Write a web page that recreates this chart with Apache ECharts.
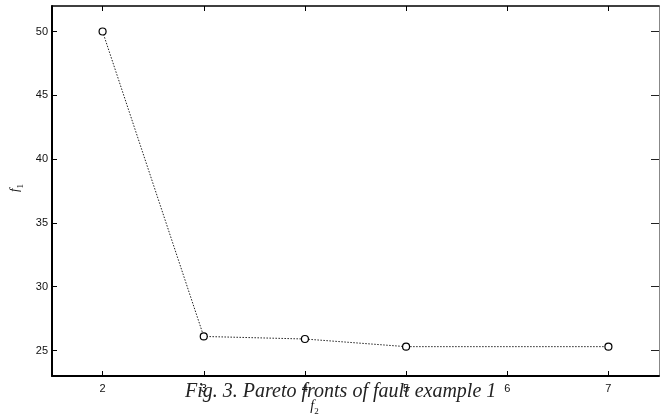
<!DOCTYPE html>
<html>
<head>
<meta charset="utf-8">
<script src="https://cdn.jsdelivr.net/npm/echarts@6/dist/echarts.min.js"></script>
<style>html,body{margin:0;padding:0;background:#fff}#c{width:661px;height:414px}</style>
</head>
<body>
<div id="c"></div>
<script>
var xValues = [2, 3, 4, 5, 7];
var yValues = [50, 26.1, 25.9, 25.3, 25.3];
var xTicks = [2, 3, 4, 5, 6, 7];
var yTicks = [25, 30, 35, 40, 45, 50];
var caption = 'Fig. 3. Pareto fronts of fault example 1';

var chart = echarts.init(document.getElementById('c'));
var pts = xValues.map(function (x, i) { return [x, yValues[i]]; });
var labelStyle = { color: '#111', fontSize: 11, fontFamily: 'Liberation Sans, Arial, sans-serif' };
chart.setOption({
  animation: false,
  backgroundColor: '#fff',
  title: {
    text: caption,
    left: 180, top: 377,
    textStyle: { fontFamily: 'Liberation Serif, serif', fontStyle: 'italic', fontWeight: 'normal', fontSize: 20, color: '#222' }
  },
  grid: { left: 52, right: 2, top: 6, bottom: 38, outerBoundsMode: 'none', containLabel: false },
  xAxis: [{
    type: 'value', min: 1.5, max: 7.5, interval: 1,
    position: 'bottom',
    name: '{f|f}{s|2}', nameLocation: 'middle', nameGap: 15,
    nameTextStyle: { padding: [0, 82, 0, 0], rich: {
      f: { fontFamily: 'Liberation Serif, serif', fontStyle: 'italic', fontSize: 14, color: '#111' },
      s: { fontFamily: 'Liberation Serif, serif', fontSize: 9, color: '#111', verticalAlign: 'bottom', padding: [12, 0, 0, 0] }
    }},
    axisLine: { show: true, onZero: false, lineStyle: { color: '#000', width: 2 } },
    axisTick: { show: true, inside: true, length: 5, lineStyle: { color: '#000', width: 1 },
      customValues: xTicks },
    axisLabel: Object.assign({ margin: 7, customValues: xTicks }, labelStyle),
    splitLine: { show: false }
  }, {
    type: 'value', min: 1.5, max: 7.5, interval: 1,
    position: 'top',
    axisLine: { show: true, onZero: false, lineStyle: { color: '#000', width: 1.5 } },
    axisTick: { show: true, inside: true, length: 5, lineStyle: { color: '#000', width: 1 }, customValues: xTicks },
    axisLabel: { show: false },
    splitLine: { show: false }
  }],
  yAxis: [{
    type: 'value', min: 23, max: 52, interval: 5,
    position: 'left',
    name: '{f|f}{s|1}', nameLocation: 'middle', nameGap: 27, nameRotate: 90,
    nameTextStyle: { padding: [0, 0, 0, 6], rich: {
      f: { fontFamily: 'Liberation Serif, serif', fontStyle: 'italic', fontSize: 13, color: '#111' },
      s: { fontFamily: 'Liberation Serif, serif', fontSize: 9, color: '#111', verticalAlign: 'bottom', padding: [12, 0, 0, 0] }
    }},
    axisLine: { show: true, onZero: false, lineStyle: { color: '#000', width: 2 } },
    axisTick: { show: true, inside: true, length: 5, lineStyle: { color: '#000', width: 1 }, customValues: yTicks },
    axisLabel: Object.assign({ margin: 4, customValues: yTicks }, labelStyle),
    splitLine: { show: false }
  }, {
    type: 'value', min: 23, max: 52, interval: 5,
    position: 'right',
    axisLine: { show: true, onZero: false, lineStyle: { color: '#888', width: 1 } },
    axisTick: { show: true, inside: true, length: 8, lineStyle: { color: '#222', width: 1 }, customValues: yTicks },
    axisLabel: { show: false },
    splitLine: { show: false }
  }],
  series: [{
    type: 'line',
    data: pts,
    symbol: 'circle',
    symbolSize: 7,
    itemStyle: { color: '#fff', borderColor: '#000', borderWidth: 1.2 },
    lineStyle: { color: '#222', width: 1, type: [1.5, 1.5] },
    z: 3
  }]
});
</script>
</body>
</html>
